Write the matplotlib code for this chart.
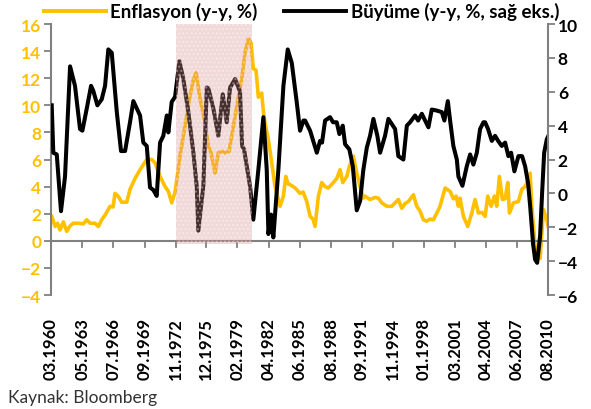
import matplotlib
matplotlib.use("Agg")
import matplotlib.pyplot as plt
from matplotlib.patches import Rectangle
from matplotlib.lines import Line2D

plt.rcParams['font.family'] = ['Lato', 'DejaVu Sans']

# Büyüme (y-y, %), right axis -- decimal year
gdp_t = [1960.24, 1960.40, 1960.75, 1961.18, 1961.59, 1962.10, 1962.60, 1963.11, 1963.35, 1963.79,
         1964.23, 1964.46, 1964.87, 1965.31, 1965.65, 1965.98, 1966.33, 1966.84, 1967.27, 1967.68,
         1968.18, 1968.52, 1969.20, 1969.53, 1969.88, 1970.21, 1970.55, 1970.89, 1971.23, 1971.56,
         1971.91, 1972.07, 1972.41, 1972.75, 1973.19, 1973.59, 1974.10, 1974.61, 1974.95, 1975.11,
         1975.62, 1975.97, 1976.13, 1976.64, 1977.14, 1977.59, 1977.99, 1978.33, 1978.84, 1979.34,
         1979.55, 1979.75, 1980.05, 1980.36, 1980.69, 1981.20, 1981.71, 1982.05, 1982.22, 1982.49,
         1982.72, 1983.23, 1983.74, 1984.18, 1984.59, 1985.10, 1985.43, 1985.77, 1985.94, 1986.45,
         1987.13, 1987.46, 1987.66, 1987.97, 1988.47, 1988.78, 1989.15, 1989.42, 1989.76, 1990.00,
         1990.43, 1990.78, 1991.18, 1991.52, 1991.85, 1992.20, 1992.53, 1992.87, 1993.27, 1993.55,
         1994.05, 1994.39, 1994.73, 1995.07, 1995.40, 1995.91, 1996.26, 1996.59, 1997.10, 1997.40,
         1997.78, 1998.11, 1998.45, 1998.79, 1999.23, 1999.81, 2000.07, 2000.42, 2000.65, 2000.98,
         2001.33, 2001.49, 2001.90, 2002.34, 2002.68, 2003.01, 2003.36, 2003.69, 2004.03, 2004.20,
         2004.50, 2004.88, 2005.21, 2005.52, 2005.89, 2006.23, 2006.56, 2006.84, 2007.17, 2007.58,
         2007.95, 2008.26, 2008.56, 2008.77, 2009.07, 2009.27, 2009.48, 2009.78, 2009.98, 2010.19,
         2010.46, 2010.62]
gdp = [5.2, 2.4, 2.3, -1.05, 1.0, 7.5, 6.35, 3.8, 3.7, 5.0,
       6.35, 6.05, 5.2, 5.55, 6.35, 8.5, 8.3, 4.8, 2.5, 2.5,
       4.2, 5.45, 4.6, 3.0, 2.8, 0.35, 0.2, -0.15, 3.0, 3.4,
       4.6, 3.6, 5.4, 5.7, 7.8, 6.75, 4.8, 2.4, 0.4, -2.2,
       0.45, 6.25, 6.2, 5.0, 3.4, 5.85, 4.2, 6.25, 6.75, 6.0,
       2.8, 2.6, 1.5, 0.4, -1.55, 1.4, 4.5, 1.4, -2.4, -1.25,
       -2.6, 1.4, 6.35, 8.5, 7.7, 5.35, 3.7, 4.3, 4.3, 3.7,
       2.4, 3.1, 3.0, 4.3, 4.5, 4.2, 4.2, 3.5, 4.0, 2.9,
       2.6, 1.6, -1.0, -0.45, 1.4, 2.7, 3.4, 4.4, 3.4, 2.4,
       3.4, 4.4, 4.1, 3.8, 2.2, 2.0, 4.0, 4.2, 4.6, 4.3,
       4.7, 4.3, 3.9, 4.95, 4.9, 4.8, 4.3, 5.45, 4.3, 2.8,
       2.0, 1.0, 0.45, 1.6, 2.3, 1.7, 2.4, 3.8, 4.2, 4.2,
       3.8, 3.1, 3.4, 3.1, 2.8, 3.0, 2.2, 2.4, 1.3, 2.2,
       2.2, 1.6, 0.6, -0.75, -3.0, -3.9, -4.1, -2.5, 0.0, 2.4,
       3.2, 3.4]

# Enflasyon (y-y, %), left axis
cpi_t = [1960.24, 1960.58, 1960.83, 1961.08, 1961.42, 1961.76, 1962.10, 1962.43, 1962.94, 1963.45,
         1963.79, 1964.13, 1964.63, 1964.97, 1965.31, 1965.65, 1966.16, 1966.46, 1966.66, 1966.97,
         1967.34, 1967.85, 1968.18, 1968.69, 1969.20, 1969.88, 1970.39, 1970.72, 1971.23, 1971.74,
         1972.07, 1972.41, 1972.75, 1973.26, 1973.76, 1974.27, 1974.58, 1974.88, 1975.29, 1975.79,
         1976.13, 1976.40, 1976.81, 1977.14, 1977.52, 1977.82, 1978.23, 1978.67, 1979.07, 1979.52,
         1979.85, 1980.19, 1980.46, 1980.69, 1980.96, 1981.20, 1981.54, 1981.70, 1981.88, 1982.21,
         1982.56, 1982.89, 1983.40, 1983.74, 1983.98, 1984.21, 1984.42, 1984.93, 1985.43, 1985.74,
         1986.11, 1986.45, 1986.75, 1986.95, 1987.29, 1987.63, 1987.97, 1988.30, 1988.81, 1989.15,
         1989.49, 1989.76, 1990.17, 1990.43, 1990.84, 1991.18, 1991.52, 1991.85, 1992.02, 1992.53,
         1993.04, 1993.37, 1993.72, 1994.23, 1994.73, 1995.07, 1995.40, 1995.75, 1996.08, 1996.42,
         1996.93, 1997.27, 1997.60, 1997.94, 1998.28, 1998.62, 1998.95, 1999.30, 1999.63, 2000.14,
         2000.65, 2000.98, 2001.26, 2001.49, 2001.66, 2002.00, 2002.44, 2002.85, 2003.18, 2003.52,
         2003.89, 2004.20, 2004.47, 2004.81, 2005.14, 2005.38, 2005.65, 2005.95, 2006.23, 2006.50,
         2006.67, 2007.07, 2007.58, 2007.92, 2008.26, 2008.56, 2008.77, 2008.94, 2009.27, 2009.58,
         2009.78, 2010.12, 2010.46, 2010.62]
cpi = [1.8, 1.06, 1.3, 0.8, 1.4, 0.7, 1.1, 1.3, 1.3, 1.25,
       1.55, 1.3, 1.3, 1.06, 1.55, 1.9, 2.55, 2.5, 3.5, 3.3,
       2.85, 2.85, 3.8, 4.6, 5.25, 6.0, 6.0, 5.75, 4.75, 4.0,
       3.65, 2.8, 3.6, 6.3, 8.5, 10.7, 11.8, 12.4, 10.5, 8.7,
       7.0, 6.5, 5.0, 6.5, 6.6, 6.5, 6.6, 8.45, 10.2, 12.0,
       13.9, 14.9, 14.6, 12.7, 12.6, 10.6, 10.9, 9.6, 8.7, 7.5,
       5.75, 4.0, 2.55, 3.3, 4.75, 4.2, 4.15, 3.9, 3.5, 3.6,
       2.9, 1.8, 1.6, 1.06, 3.3, 4.3, 4.0, 3.9, 4.3, 4.6,
       5.25, 4.3, 4.75, 5.5, 6.25, 5.0, 4.0, 3.15, 3.3, 3.05,
       3.2, 3.15, 2.8, 2.55, 2.55, 2.8, 3.05, 2.4, 2.75, 2.9,
       3.4, 2.55, 2.2, 1.55, 1.45, 1.6, 1.55, 2.05, 2.55, 3.9,
       3.65, 3.1, 3.3, 2.55, 3.15, 1.8, 1.06, 2.05, 3.05, 2.05,
       2.1, 1.8, 3.3, 2.55, 3.3, 2.55, 4.75, 3.05, 3.1, 4.3,
       2.05, 2.8, 2.9, 3.8, 4.0, 4.5, 5.0, 2.55, -0.4, -1.3,
       -1.3, 2.3, 1.55, 1.0]

tick_labels = ['03.1960', '05.1963', '07.1966', '09.1969', '11.1972', '12.1975', '02.1979',
               '04.1982', '06.1985', '08.1988', '09.1991', '11.1994', '01.1998', '03.2001',
               '04.2004', '06.2007', '08.2010']
tick_pos = [int(s[3:]) + (int(s[:2]) - 1) / 12 for s in tick_labels]

shade_start, shade_end = 1972.83, 1980.51

yellow = '#FFC000'
grey = '#808080'

fig = plt.figure(figsize=(5.91, 4.10), dpi=100)
ax = fig.add_axes([0.0863, 0.278, 0.841, 0.661])
ax2 = ax.twinx()

ax.plot(cpi_t, cpi, color=yellow, lw=2.6, solid_joinstyle='round', zorder=2)
ax2.plot(gdp_t, gdp, color='black', lw=2.9, solid_joinstyle='round', zorder=2)

ax.set_xlim(tick_pos[0], tick_pos[-1])
ax.set_ylim(-4, 16)
ax2.set_ylim(-6, 10)
ax.set_yticks(range(-4, 17, 2))
ax2.set_yticks(range(-6, 11, 2))

# shaded period on top of both lines
shade = Rectangle((shade_start, -0.25), shade_end - shade_start, 16.25,
                  transform=ax.transData, facecolor='#d98c8c', alpha=0.33,
                  edgecolor='none', zorder=5)
ax2.add_patch(shade)
ax2.add_patch(Rectangle((shade_start, -0.25), shade_end - shade_start, 16.25,
                        transform=ax.transData, facecolor='none', hatch='....',
                        edgecolor='white', linewidth=0, alpha=0.35, zorder=6))

for a in (ax, ax2):
    a.spines['top'].set_visible(False)
    a.spines['bottom'].set_visible(False)
    a.spines['left'].set_color(grey)
    a.spines['right'].set_color(grey)
    a.spines['left'].set_linewidth(1.5)
    a.spines['right'].set_linewidth(1.5)
ax.spines['right'].set_visible(False)
ax2.spines['left'].set_visible(False)

ax.tick_params(axis='y', colors=grey, labelcolor=yellow, length=5, width=1.3,
               labelsize=12.5, pad=2)
ax2.tick_params(axis='y', colors=grey, labelcolor='black', length=5, width=1.3,
                labelsize=12.5, pad=2)
for lab in ax.get_yticklabels() + ax2.get_yticklabels():
    lab.set_fontweight('bold')

# x axis line at zero, ticks hanging down, labels at the bottom
ax.axhline(0, color=grey, lw=1.5, zorder=3)
ax.set_xticks(tick_pos)
ax.tick_params(axis='x', bottom=False, labelbottom=False)
for p in tick_pos[1:-1]:
    ax.plot([p, p], [0, -0.45], color=grey, lw=1.3, zorder=3, clip_on=False)

sec = ax.secondary_xaxis('bottom')
sec.set_xticks(tick_pos)
sec.set_xticklabels(tick_labels, rotation=90, fontsize=12, fontweight='bold', va='top')
sec.tick_params(axis='x', length=0, pad=16)
sec.spines['bottom'].set_visible(False)

handles = [Line2D([], [], color=yellow, lw=2.8), Line2D([], [], color='black', lw=2.8)]
fig.legend(handles, ['Enflasyon (y-y, %)', 'Büyüme (y-y, %, sağ eks.)'],
           loc='center', bbox_to_anchor=(0.51, 0.97), ncol=2, frameon=False,
           prop={'weight': 'bold', 'size': 13.5}, handlelength=3.3,
           columnspacing=1.4, handletextpad=0.25, borderaxespad=0)

fig.text(0.013, 0.018, 'Kaynak: Bloomberg', fontsize=12.5, color='#333333')

fig.savefig('out.png', dpi=100)
